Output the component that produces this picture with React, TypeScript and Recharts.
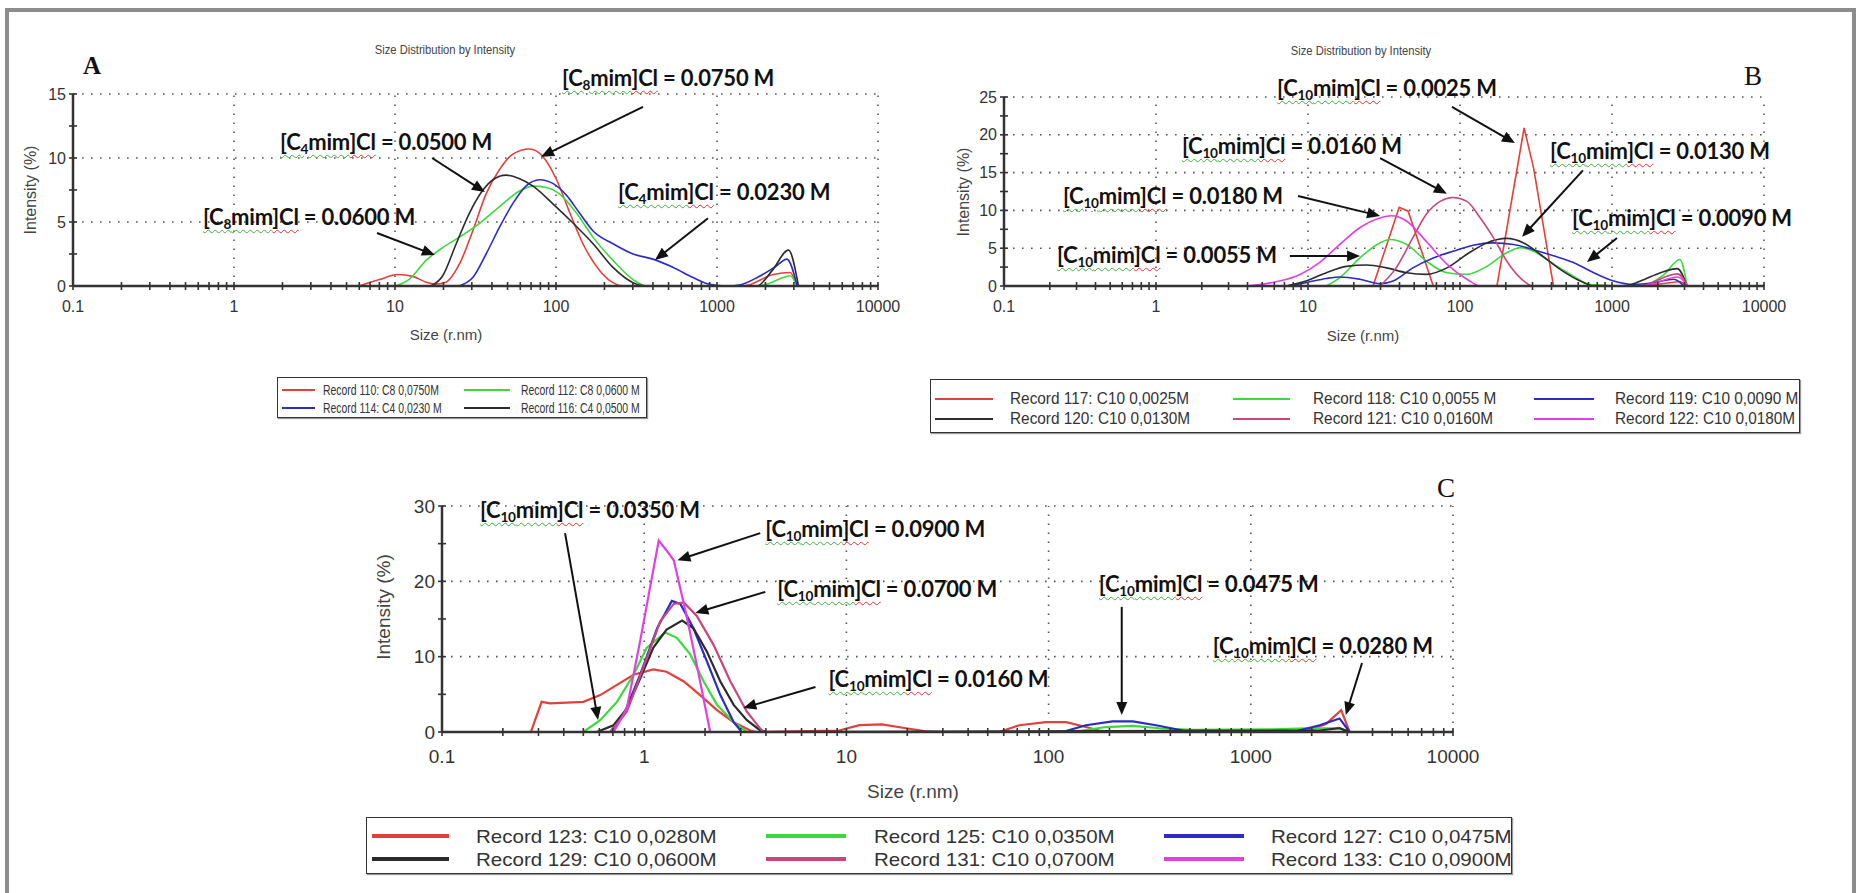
import { LineChart, Line, XAxis, YAxis, ReferenceLine, ReferenceDot } from 'recharts';

const RED = '#e2403a';
const GREEN = '#3dd83d';
const BLUE = '#2b2bc6';
const BLACK = '#2b2b2b';
const MAUVE = '#c8467c';
const MAGENTA = '#e23fe2';
const AXIS = '#333';
const GRID = '#555';

const SANS = "'Liberation Sans', Arial, sans-serif";
const NOTE_FONT = "Lato, 'Open Sans', sans-serif";
const SERIF = "'Liberation Serif', 'Times New Roman', serif";

// log x axis, same decades on all three panels
const X_MAJOR = [0.1, 1, 10, 100, 1000, 10000];
const X_TICKS = X_MAJOR.flatMap((d, i) =>
  i === X_MAJOR.length - 1 ? [d] : [1, 2, 3, 4, 5, 6, 7, 8, 9].map((m) => d * m)
);

// ---------------- panel A ----------------
const A_Y_LABELS = [0, 5, 10, 15];
const A_Y_TICKS = [0, 2.5, 5, 7.5, 10, 12.5, 15];

const R110_S = [6.0, 8.0, 10.4, 12.9, 15.6, 17.6, 20.7, 25.1, 30.4, 36.8, 44.6, 54, 68.5, 83, 100, 122, 147, 187, 226, 261, 1459, 2240, 2843, 3132];
const R110_I = [0, 0.5, 0.9, 0.75, 0.3, 0.15, 0.3, 1.7, 4.3, 7.2, 9.1, 10.3, 10.7, 10.1, 8.4, 5.7, 3.3, 1.2, 0.26, 0, 0, 0.9, 1.05, 0];

const R112_S = [10.1, 12.3, 15.6, 19.8, 25, 33.5, 44.6, 59, 72, 87, 105, 134, 170, 226, 301, 365, 1683, 2100, 2500, 2843, 3132];
const R112_I = [0, 0.53, 2.0, 3.0, 3.8, 4.9, 6.2, 7.4, 7.8, 7.7, 7.2, 5.7, 3.8, 2.0, 0.5, 0, 0, 0.2, 0.6, 0.8, 0];

const R114_S = [25, 30.4, 36.8, 44.6, 54, 65, 79, 96, 116, 140, 170, 226, 301, 400, 535, 710, 900, 1150, 1400, 1800, 2300, 2716, 3150];
const R114_I = [0, 0.66, 2.5, 4.6, 6.45, 7.8, 8.3, 8.0, 7.1, 5.7, 4.3, 3.3, 2.5, 2.1, 1.45, 0.66, 0.13, 0, 0.1, 0.7, 1.5, 2.1, 0];

const R116_S = [16.7, 19.8, 24, 29, 35.2, 40.6, 49, 59, 72, 96, 128, 170, 226, 301, 365, 1766, 2200, 2780, 3206];
const R116_I = [0, 0.8, 3.3, 5.7, 7.5, 8.3, 8.66, 8.4, 7.8, 6.4, 4.9, 3.3, 1.45, 0.26, 0, 0, 1.2, 2.8, 0];

// ---------------- panel B ----------------
const B_Y_LABELS = [0, 5, 10, 15, 20, 25];
const B_Y_TICKS = [0, 2.5, 5, 7.5, 10, 12.5, 15, 17.5, 20, 22.5, 25];

const R117_S = [26.8, 39.8, 45.6, 66.7, 175, 264, 305, 412, 1600, 2800, 3200];
const R117_I = [0, 10.4, 9.9, 0, 0, 20.9, 15.6, 0, 0, 0.6, 0];

const R118_S = [13.2, 16.2, 21.9, 29.7, 34.5, 44.5, 60, 82, 111, 150, 203, 249, 304, 412, 558, 720, 1540, 2200, 2793, 3120];
const R118_I = [0, 1.1, 3.7, 5.7, 6.15, 5.5, 3.3, 1.76, 1.54, 2.6, 4.4, 5.05, 4.6, 2.9, 1.3, 0.2, 0, 1.5, 3.5, 0];

const R119_S = [7.2, 9.7, 13.2, 16.2, 21.9, 29.7, 36.3, 49, 66.7, 90, 122, 166, 225, 304, 412, 558, 757, 1026, 1390, 1885, 2553, 2972];
const R119_I = [0, 0.44, 1.0, 1.2, 0.9, 0.3, 0.66, 2.4, 3.7, 4.6, 5.4, 5.7, 5.5, 4.8, 4.0, 3.1, 1.76, 0.66, 0.2, 0.44, 0.9, 0];

const R120_S = [7.2, 9.7, 13.2, 17.9, 24.3, 32.8, 44.5, 60, 82, 111, 150, 203, 262, 337, 456, 618, 757, 1194, 1540, 2085, 2686, 3120];
const R120_I = [0, 0.66, 1.76, 2.6, 2.77, 2.4, 1.76, 1.54, 2.4, 4.2, 5.7, 6.3, 5.7, 4.2, 2.2, 0.66, 0, 0, 0.66, 1.76, 2.3, 0];

const R121_S = [29.7, 38, 49, 60, 74, 90, 111, 136, 166, 203, 248, 304, 1500, 2700, 3150];
const R121_I = [0, 2.4, 6.4, 9.5, 11.2, 11.7, 11.2, 9.0, 6.4, 3.3, 1.1, 0, 0, 1.6, 0];

const R122_S = [0.2, 3.5, 4.8, 6.5, 8.8, 11.9, 16.2, 21.9, 29.7, 35.4, 44.5, 60, 82, 111, 136, 1600, 2700, 3150];
const R122_I = [0, 0, 0.2, 0.66, 1.5, 3.1, 5.5, 7.7, 9.0, 9.3, 8.6, 5.9, 2.9, 0.9, 0, 0, 1.2, 0];

// ---------------- panel C ----------------
const C_Y_LABELS = [0, 10, 20, 30];
const C_Y_TICKS = [0, 5, 10, 15, 20, 25, 30];

const R123_S = [0.275, 0.311, 0.343, 0.5, 0.606, 0.733, 0.886, 1.11, 1.29, 1.57, 1.89, 2.29, 2.77, 3.35, 3.6, 9.2, 11.6, 15, 19.7, 24.7, 28.8, 57, 71.6, 97, 122, 153, 178, 200, 1880, 2360, 2800, 3080];
const R123_I = [0, 4.0, 3.8, 4.0, 4.9, 6.25, 7.6, 8.3, 8.0, 6.7, 4.9, 2.9, 1.3, 0.2, 0, 0.2, 0.9, 1.0, 0.5, 0.1, 0, 0, 0.9, 1.3, 1.3, 0.66, 0.2, 0, 0.1, 1.1, 2.9, 0];

const R125_S = [0.5, 0.606, 0.733, 0.886, 1.03, 1.27, 1.45, 1.69, 1.97, 2.29, 2.77, 3.22, 131, 192, 261, 353, 516, 1285, 1880, 2748, 3080];
const R125_I = [0, 1.56, 4.0, 7.6, 11.2, 13.2, 12.5, 10.3, 6.7, 3.6, 1.3, 0, 0, 0.66, 0.8, 0.5, 0.3, 0.35, 0.5, 0.5, 0];

const R127_S = [0.679, 0.79, 0.955, 1.16, 1.37, 1.51, 1.75, 2.04, 2.38, 2.77, 3.04, 117, 153, 207, 261, 340, 460, 1614, 2188, 2748, 3080];
const R127_I = [0, 2.2, 7.6, 13.8, 17.4, 17.0, 13.8, 9.4, 4.9, 1.3, 0, 0, 0.9, 1.4, 1.4, 0.9, 0.2, 0, 0.9, 1.8, 0];

const R129_S = [0.2, 0.583, 0.705, 0.82, 0.955, 1.11, 1.29, 1.54, 1.75, 2.04, 2.38, 2.77, 3.22, 3.75, 4.05, 2188, 2748, 3080];
const R129_I = [0, 0, 0.9, 3.1, 7.1, 11.2, 13.6, 14.8, 13.8, 10.7, 6.7, 3.6, 1.56, 0.2, 0, 0.2, 0.5, 0];

const R131_S = [0.679, 0.82, 0.99, 1.2, 1.4, 1.57, 1.82, 2.2, 2.67, 3.22, 3.75, 3.9];
const R131_I = [0, 2.7, 8.5, 14.7, 17.0, 17.2, 15.4, 11.6, 6.7, 2.7, 0.45, 0];

const R133_S = [0.2, 0.705, 0.82, 0.955, 1.18, 1.29, 1.4, 1.6, 1.82, 2.12, 4900];
const R133_I = [0, 0, 3.1, 12.1, 25.4, 24.1, 22.8, 16.1, 8.9, 0, 0];

type Curve = 'monotone' | 'linear';
type Series = { name: string; color: string; s: number[]; v: number[]; curve: Curve };
type Note = { sub: string; conc: string; x: number; y: number; from: [number, number]; to: [number, number] };

const SERIES_A: Series[] = [
  { name: 'Record 110: C8 0,0750M', color: RED, s: R110_S, v: R110_I, curve: 'monotone' },
  { name: 'Record 112: C8 0,0600 M', color: GREEN, s: R112_S, v: R112_I, curve: 'monotone' },
  { name: 'Record 114: C4 0,0230 M', color: BLUE, s: R114_S, v: R114_I, curve: 'monotone' },
  { name: 'Record 116: C4 0,0500 M', color: BLACK, s: R116_S, v: R116_I, curve: 'monotone' },
];

const SERIES_B: Series[] = [
  { name: 'Record 117: C10 0,0025M', color: RED, s: R117_S, v: R117_I, curve: 'linear' },
  { name: 'Record 118: C10 0,0055 M', color: GREEN, s: R118_S, v: R118_I, curve: 'monotone' },
  { name: 'Record 119: C10 0,0090 M', color: BLUE, s: R119_S, v: R119_I, curve: 'monotone' },
  { name: 'Record 120: C10 0,0130M', color: BLACK, s: R120_S, v: R120_I, curve: 'monotone' },
  { name: 'Record 121: C10 0,0160M', color: MAUVE, s: R121_S, v: R121_I, curve: 'monotone' },
  { name: 'Record 122: C10 0,0180M', color: MAGENTA, s: R122_S, v: R122_I, curve: 'monotone' },
];

const SERIES_C: Series[] = [
  { name: 'Record 123: C10 0,0280M', color: RED, s: R123_S, v: R123_I, curve: 'linear' },
  { name: 'Record 125: C10 0,0350M', color: GREEN, s: R125_S, v: R125_I, curve: 'linear' },
  { name: 'Record 127: C10 0,0475M', color: BLUE, s: R127_S, v: R127_I, curve: 'linear' },
  { name: 'Record 129: C10 0,0600M', color: BLACK, s: R129_S, v: R129_I, curve: 'linear' },
  { name: 'Record 131: C10 0,0700M', color: MAUVE, s: R131_S, v: R131_I, curve: 'linear' },
  { name: 'Record 133: C10 0,0900M', color: MAGENTA, s: R133_S, v: R133_I, curve: 'linear' },
];

// callouts: text anchor (left/baseline) and arrow, all in data units
const NOTES_A: Note[] = [
  { sub: '8', conc: '0.0750', x: 109, y: 15.6, from: [347, 14.0], to: [80.7, 10.1] },
  { sub: '4', conc: '0.0500', x: 1.93, y: 10.6, from: [17.0, 10.0], to: [36.2, 7.34] },
  { sub: '8', conc: '0.0600', x: 0.641, y: 4.7, from: [7.73, 4.14], to: [17.7, 2.42] },
  { sub: '4', conc: '0.0230', x: 243, y: 6.64, from: [879, 5.3], to: [412, 2.03] },
];

const NOTES_B: Note[] = [
  { sub: '10', conc: '0.0025', x: 6.25, y: 25.0, from: [88.5, 23.7], to: [230, 18.9] },
  { sub: '10', conc: '0.0160', x: 1.48, y: 17.3, from: [29.8, 16.9], to: [82, 12.2] },
  { sub: '10', conc: '0.0130', x: 391, y: 16.7, from: [644, 15.3], to: [256, 6.5] },
  { sub: '10', conc: '0.0180', x: 0.244, y: 10.8, from: [8.6, 11.9], to: [29.8, 9.26] },
  { sub: '10', conc: '0.0090', x: 546, y: 7.8, from: [1079, 6.35], to: [685, 3.17] },
  { sub: '10', conc: '0.0055', x: 0.223, y: 2.9, from: [7.6, 3.97], to: [22, 3.97] },
];

const NOTES_C: Note[] = [
  { sub: '10', conc: '0.0350', x: 0.154, y: 28.3, from: [0.406, 26.4], to: [0.591, 1.6] },
  { sub: '10', conc: '0.0900', x: 3.97, y: 25.8, from: [3.75, 26.4], to: [1.46, 22.8] },
  { sub: '10', conc: '0.0700', x: 4.55, y: 17.8, from: [3.97, 18.6], to: [1.79, 15.8] },
  { sub: '10', conc: '0.0160', x: 8.15, y: 5.84, from: [7.03, 5.98], to: [3.09, 3.19] },
  { sub: '10', conc: '0.0475', x: 177, y: 18.5, from: [230, 16.6], to: [230, 2.26] },
  { sub: '10', conc: '0.0280', x: 649, y: 10.2, from: [3548, 9.16], to: [2951, 2.26] },
];

function toPoints(s: number[], v: number[]) {
  return s.map((x, i) => ({ s: x, v: v[i] }));
}

function Arrow(p: any) {
  const { x1, y1, x2, y2 } = p;
  const dx = x2 - x1;
  const dy = y2 - y1;
  const len = Math.hypot(dx, dy) || 1;
  const ux = dx / len;
  const uy = dy / len;
  const hl = 13;
  const hw = 5.5;
  const bx = x2 - ux * hl;
  const by = y2 - uy * hl;
  return (
    <g>
      <line x1={x1} y1={y1} x2={bx + ux * 2} y2={by + uy * 2} stroke="#111" strokeWidth={2} />
      <polygon
        points={`${x2},${y2} ${bx - uy * hw},${by + ux * hw} ${bx + uy * hw},${by - ux * hw}`}
        fill="#111"
      />
    </g>
  );
}

function noteShape(n: Note, fs: number) {
  return (p: any) => (
    <foreignObject x={p.cx} y={p.cy - fs * 0.99} width={fs * 13} height={fs * 1.7}>
      <div
        style={{
          fontFamily: NOTE_FONT,
          fontWeight: 700,
          fontSize: fs,
          lineHeight: `${fs * 1.2}px`,
          whiteSpace: 'nowrap',
          color: '#111',
          letterSpacing: -0.2,
        }}
      >
        <span style={{ textDecoration: 'underline wavy #3cae3c', textDecorationThickness: 1, textUnderlineOffset: 4 }}>
          [C<sub style={{ fontSize: '0.62em', verticalAlign: '-0.3em', lineHeight: 0 }}>{n.sub}</sub>mim
        </span>
        <span style={{ textDecoration: 'underline wavy #e03030', textDecorationThickness: 1, textUnderlineOffset: 4 }}>
          ]Cl
        </span>
        {` = ${n.conc} M`}
      </div>
    </foreignObject>
  );
}

function xTick(fs: number, size: number, margin: number) {
  return (p: any) => {
    const v = p.payload.value;
    const axisY = p.y - size - margin;
    return (
      <g>
        <line x1={p.x} x2={p.x} y1={axisY - 4} y2={axisY + 4} stroke={AXIS} strokeWidth={1.6} />
        {X_MAJOR.includes(v) && (
          <text x={p.x} y={p.y} dy="0.71em" textAnchor="middle" fontFamily={SANS} fontSize={fs} fill="#333">
            {String(v)}
          </text>
        )}
      </g>
    );
  };
}

function yTick(labels: number[], fs: number, size: number, margin: number) {
  return (p: any) => {
    const v = p.payload.value;
    const axisX = p.x + size + margin;
    return (
      <g>
        <line x1={axisX - 4} x2={axisX + 4} y1={p.y} y2={p.y} stroke={AXIS} strokeWidth={1.6} />
        {labels.includes(v) && (
          <text x={p.x} y={p.y} dy="0.355em" textAnchor="end" fontFamily={SANS} fontSize={fs} fill="#333">
            {String(v)}
          </text>
        )}
      </g>
    );
  };
}

type PanelProps = {
  left: number;
  top: number;
  width: number;
  height: number;
  margin: { top: number; right: number; bottom: number; left: number };
  series: Series[];
  notes: Note[];
  yMax: number;
  yTicks: number[];
  yLabels: number[];
  lineWidth: number;
  tickFs: number;
  xTickMargin: number;
  noteFs: number;
};

function Panel(props: PanelProps) {
  const { series, notes, yMax, yTicks, yLabels } = props;
  const gridX = X_MAJOR.slice(1);
  const gridY = yLabels.slice(1);
  return (
    <div style={{ position: 'absolute', left: props.left, top: props.top }}>
      <LineChart width={props.width} height={props.height} margin={props.margin}>
        <XAxis
          dataKey="s"
          type="number"
          scale="log"
          domain={[0.1, 10000]}
          allowDataOverflow
          ticks={X_TICKS}
          interval={0}
          height={30}
          tickSize={5}
          tickMargin={props.xTickMargin}
          tickLine={false}
          axisLine={{ stroke: AXIS, strokeWidth: 2.5 }}
          tick={xTick(props.tickFs, 5, props.xTickMargin)}
        />
        <YAxis
          type="number"
          domain={[0, yMax]}
          allowDataOverflow
          ticks={yTicks}
          interval={0}
          width={40}
          tickSize={4}
          tickMargin={3}
          tickLine={false}
          axisLine={{ stroke: AXIS, strokeWidth: 2.5 }}
          tick={yTick(yLabels, props.tickFs, 4, 3)}
        />
        {gridX.map((g) => (
          <ReferenceLine key={`gx${g}`} x={g} stroke={GRID} strokeWidth={1.6} strokeDasharray="1.6 7.4" />
        ))}
        {gridY.map((g) => (
          <ReferenceLine key={`gy${g}`} y={g} stroke={GRID} strokeWidth={1.6} strokeDasharray="1.6 7.4" />
        ))}
        {series.map((sr) => (
          <Line
            key={sr.name}
            data={toPoints(sr.s, sr.v)}
            dataKey="v"
            type={sr.curve}
            stroke={sr.color}
            strokeWidth={props.lineWidth}
            dot={false}
            activeDot={false}
            isAnimationActive={false}
          />
        ))}
        {notes.map((n, i) => (
          <ReferenceLine
            key={`a${i}`}
            segment={[
              { x: n.from[0], y: n.from[1] },
              { x: n.to[0], y: n.to[1] },
            ]}
            ifOverflow="visible"
            shape={Arrow}
          />
        ))}
        {notes.map((n, i) => (
          <ReferenceDot key={`n${i}`} x={n.x} y={n.y} r={0} ifOverflow="visible" shape={noteShape(n, props.noteFs)} />
        ))}
      </LineChart>
    </div>
  );
}

type LegendProps = {
  series: Series[];
  left: number;
  top: number;
  width: number;
  height: number;
  colX: number[];
  swatchW: number[];
  textX: number[];
  rowY: number[];
  swatchH: number;
  fs: number;
  squeeze: number;
};

function LegendBox(p: LegendProps) {
  const cols = p.colX.length;
  return (
    <div
      style={{
        position: 'absolute',
        left: p.left,
        top: p.top,
        width: p.width,
        height: p.height,
        boxSizing: 'border-box',
        border: '1.5px solid #333',
        boxShadow: '1px 1px 1px #999',
        background: '#fff',
      }}
    >
      {p.series.map((sr, i) => {
        const c = i % cols;
        const r = Math.floor(i / cols);
        return (
          <div key={sr.name}>
            <div
              style={{
                position: 'absolute',
                left: p.colX[c],
                top: p.rowY[r] - p.swatchH / 2,
                width: p.swatchW[c],
                height: p.swatchH,
                background: sr.color,
              }}
            />
            <div
              style={{
                position: 'absolute',
                left: p.textX[c],
                top: p.rowY[r],
                transform: `translateY(-50%) scaleX(${p.squeeze})`,
                transformOrigin: 'left center',
                whiteSpace: 'nowrap',
                fontFamily: SANS,
                fontSize: p.fs,
                lineHeight: 1,
                color: '#333',
              }}
            >
              {sr.name}
            </div>
          </div>
        );
      })}
    </div>
  );
}

function Abs({ x, y, children, style }: { x: number; y: number; children: any; style?: any }) {
  return (
    <div
      style={{
        position: 'absolute',
        left: x,
        top: y,
        transform: 'translate(-50%, -50%)',
        whiteSpace: 'nowrap',
        ...style,
      }}
    >
      {children}
    </div>
  );
}

export default function App() {
  const rot = { transform: 'translate(-50%, -50%) rotate(-90deg)' };
  const title = { fontFamily: SANS, fontSize: 13, color: '#444', transform: 'translate(-50%, -50%) scaleX(0.86)' };
  return (
    <div
      style={{
        position: 'absolute',
        left: 0,
        top: 0,
        width: 1859,
        height: 893,
        background: '#fff',
        overflow: 'hidden',
      }}
    >
      <div
        style={{
          position: 'absolute',
          left: 5,
          top: 8,
          width: 1851,
          height: 920,
          boxSizing: 'border-box',
          border: '4px solid #8c8c8c',
        }}
      />

      {/* panel A */}
      <Abs x={445} y={49} style={title}>
        Size Distribution by Intensity
      </Abs>
      <Abs x={92} y={66} style={{ fontFamily: SERIF, fontSize: 25, fontWeight: 700, color: '#111' }}>
        A
      </Abs>
      <Abs x={31} y={190} style={{ ...rot, fontFamily: SANS, fontSize: 16, color: '#444' }}>
        Intensity (%)
      </Abs>
      <Abs x={446} y={334} style={{ fontFamily: SANS, fontSize: 15, color: '#444' }}>
        Size (r.nm)
      </Abs>
      <Panel
        left={0}
        top={0}
        width={910}
        height={360}
        margin={{ top: 94, right: 32, bottom: 44, left: 33 }}
        series={SERIES_A}
        notes={NOTES_A}
        yMax={15}
        yTicks={A_Y_TICKS}
        yLabels={A_Y_LABELS}
        lineWidth={1.6}
        tickFs={16}
        xTickMargin={10}
        noteFs={22}
      />
      <LegendBox
        series={SERIES_A}
        left={277}
        top={377}
        width={370}
        height={41}
        colX={[4, 186]}
        swatchW={[33, 46]}
        textX={[45, 243]}
        rowY={[12, 30]}
        swatchH={2}
        fs={14.5}
        squeeze={0.72}
      />

      {/* panel B */}
      <Abs x={1361} y={50} style={title}>
        Size Distribution by Intensity
      </Abs>
      <Abs x={1753} y={76} style={{ fontFamily: SERIF, fontSize: 27, color: '#111' }}>
        B
      </Abs>
      <Abs x={964} y={192} style={{ ...rot, fontFamily: SANS, fontSize: 16, color: '#444' }}>
        Intensity (%)
      </Abs>
      <Abs x={1363} y={335} style={{ fontFamily: SANS, fontSize: 15, color: '#444' }}>
        Size (r.nm)
      </Abs>
      <Panel
        left={920}
        top={0}
        width={900}
        height={360}
        margin={{ top: 97, right: 56, bottom: 44, left: 44 }}
        series={SERIES_B}
        notes={NOTES_B}
        yMax={25}
        yTicks={B_Y_TICKS}
        yLabels={B_Y_LABELS}
        lineWidth={1.6}
        tickFs={16}
        xTickMargin={10}
        noteFs={22}
      />
      <LegendBox
        series={SERIES_B}
        left={930}
        top={379}
        width={870}
        height={54}
        colX={[4, 302, 603]}
        swatchW={[58, 57, 60]}
        textX={[79, 382, 684]}
        rowY={[19, 39]}
        swatchH={2}
        fs={16}
        squeeze={0.96}
      />

      {/* panel C */}
      <Abs x={1446} y={488} style={{ fontFamily: SERIF, fontSize: 27, color: '#111' }}>
        C
      </Abs>
      <Abs x={384} y={607} style={{ ...rot, fontFamily: SANS, fontSize: 19, color: '#444' }}>
        Intensity (%)
      </Abs>
      <Abs x={913} y={792} style={{ fontFamily: SANS, fontSize: 19, color: '#444' }}>
        Size (r.nm)
      </Abs>
      <Panel
        left={360}
        top={460}
        width={1150}
        height={340}
        margin={{ top: 46, right: 57, bottom: 38, left: 42 }}
        series={SERIES_C}
        notes={NOTES_C}
        yMax={30}
        yTicks={C_Y_TICKS}
        yLabels={C_Y_LABELS}
        lineWidth={2.2}
        tickFs={19}
        xTickMargin={13}
        noteFs={22}
      />
      <LegendBox
        series={SERIES_C}
        left={366}
        top={817}
        width={1146}
        height={57}
        colX={[5, 399, 797]}
        swatchW={[77, 80, 80]}
        textX={[109, 507, 904]}
        rowY={[18, 41]}
        swatchH={4}
        fs={19}
        squeeze={1.08}
      />
    </div>
  );
}
